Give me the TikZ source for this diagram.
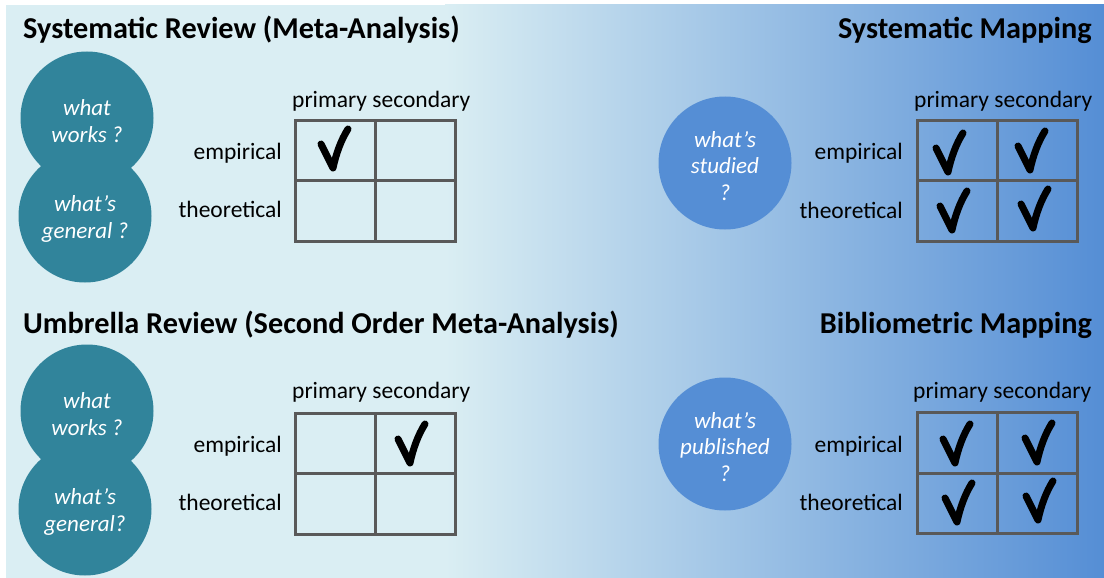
\documentclass[tikz,border=0pt]{standalone}
\usepackage{fontspec}
\setmainfont{Carlito}
\definecolor{bgl}{HTML}{DAEEF3}
\definecolor{bgr}{HTML}{558ED5}
\definecolor{tealc}{HTML}{31849B}
\definecolor{bluec}{HTML}{558ED5}
\definecolor{gridc}{HTML}{595959}
\tikzset{
  title/.style={font=\fontsize{30.3}{36}\selectfont\bfseries, inner sep=0pt},
  lbl/.style={font=\fontsize{23.5}{28}\selectfont, inner sep=0pt},
  qcirc/.style={circle, minimum size=133pt, inner sep=0pt},
  qtext/.style={inner sep=0pt, text=white, align=center,
    font=\fontsize{23}{26.5}\selectfont\itshape},
  cell/.style={draw=gridc, line width=3pt, minimum width=80pt, minimum height=60.5pt, inner sep=0pt},
  checkmark/.pic={
    \draw[line width=7pt, line cap=round, line join=round]
      (-12,-24) .. controls (-7,-14) and (-3,-6) .. (0,0)
      .. controls (3,-14) and (8,-28) .. (15,-39);
  }
}
\begin{document}
\begin{tikzpicture}[x=1pt,y=-1pt]
\useasboundingbox (0,0) rectangle (1104,578);
\fill[bgl] (6,5) rectangle (446,578);
\shade[left color=bgl, right color=bgr] (445,5) rectangle (1104,578);

% titles
\node[title, anchor=base west] (t1) at (23,39) {Systematic Review (Meta-Analysis)};
\node[title, anchor=base east] (t2) at (1092,39) {Systematic Mapping};
\node[title, anchor=base west] (t3) at (23,333) {Umbrella Review (Second Order Meta-Analysis)};
\node[title, anchor=base east] (t4) at (1092,333) {Bibliometric Mapping};

% circles
\node[qcirc, fill=tealc] (sr2) at (85,216) {};
\node[qcirc, fill=tealc] (sr1) at (87,118) {};
\node[qcirc, fill=bluec] (sm) at (725,163) {};
\node[qcirc, fill=tealc] (ur2) at (85,509) {};
\node[qcirc, fill=tealc] (ur1) at (87,411) {};
\node[qcirc, fill=bluec] (bm) at (725,444) {};
\node[qtext] (sr1t) at ([yshift=-3pt]sr1.center) {what\\works ?};
\node[qtext] (sr2t) at ([yshift=-3pt]sr2.center) {what’s\\general ?};
\node[qtext] (smt) at ([yshift=-3pt]sm.center) {what’s\\studied\\?};
\node[qtext] (ur1t) at ([yshift=-3pt]ur1.center) {what\\works ?};
\node[qtext] (ur2t) at ([yshift=-3pt]ur2.center) {what’s\\general?};
\node[qtext] (bmt) at ([yshift=-3pt]bm.center) {what’s\\published\\?};

% table: systematic review
\node[lbl, anchor=base west] (srh) at (292,107) {primary secondary};
\node[lbl, anchor=base east] (sre) at (282,159) {empirical};
\node[lbl, anchor=base east] (srth) at (282,217) {theoretical};
\node[cell] (sr11) at (335,150.25) {};
\node[cell] (sr12) at (415,150.25) {};
\node[cell] (sr21) at (335,210.75) {};
\node[cell] (sr22) at (415,210.75) {};
\pic at (333,168) {checkmark};

% table: systematic mapping
\node[lbl, anchor=base west] (smh) at (914,107) {primary secondary};
\node[lbl, anchor=base east] (sme) at (903,159) {empirical};
\node[lbl, anchor=base east] (smth) at (903,218) {theoretical};
\node[cell] (sm11) at (957,150.5) {};
\node[cell] (sm12) at (1037,150.5) {};
\node[cell] (sm21) at (957,211) {};
\node[cell] (sm22) at (1037,211) {};
\pic at (948,172) {checkmark};
\pic at (1030,170) {checkmark};
\pic at (952,230) {checkmark};
\pic at (1033,228) {checkmark};

% table: umbrella review
\node[lbl, anchor=base west] (urh) at (292,398) {primary secondary};
\node[lbl, anchor=base east] (ure) at (282,452) {empirical};
\node[lbl, anchor=base east] (urth) at (282,510) {theoretical};
\node[cell] (ur11) at (335,443.25) {};
\node[cell] (ur12) at (415,443.25) {};
\node[cell] (ur21) at (335,503.75) {};
\node[cell] (ur22) at (415,503.75) {};
\pic at (410,463) {checkmark};

% table: bibliometric mapping
\node[lbl, anchor=base west] (bmh) at (913,398) {primary secondary};
\node[lbl, anchor=base east] (bme) at (903,452) {empirical};
\node[lbl, anchor=base east] (bmth) at (903,510) {theoretical};
\node[cell] (bm11) at (957,442.75) {};
\node[cell] (bm12) at (1037,442.75) {};
\node[cell] (bm21) at (957,503.25) {};
\node[cell] (bm22) at (1037,503.25) {};
\pic at (955,463) {checkmark};
\pic at (1037,462) {checkmark};
\pic at (957,522) {checkmark};
\pic at (1038,520) {checkmark};
\end{tikzpicture}
\end{document}
